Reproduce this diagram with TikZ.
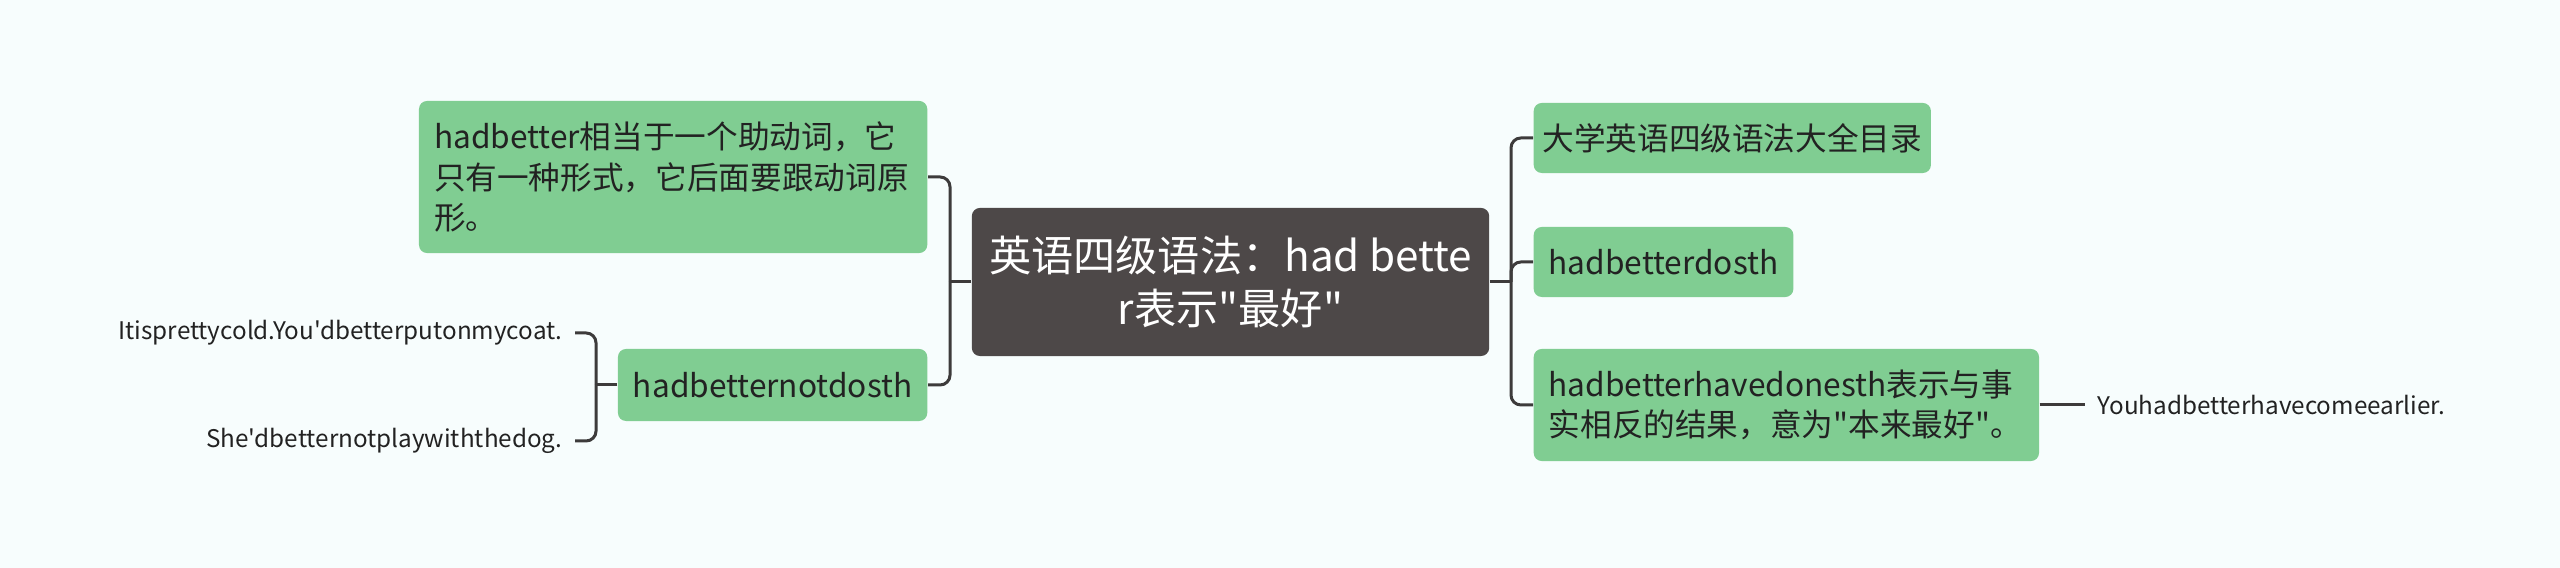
\documentclass[tikz,border=0pt]{standalone}
\usepackage{fontspec}
\setmainfont{Noto Sans CJK SC}[Ligatures=TeXOff]
\usepackage{xcolor}
\usetikzlibrary{positioning}

\definecolor{bgcol}{HTML}{F7FDFD}
\definecolor{topiccol}{HTML}{4D4848}
\definecolor{subcol}{HTML}{80CD92}
\definecolor{linecol}{HTML}{3D3B3B}
\definecolor{textcol}{HTML}{222222}

\begin{document}
\begin{tikzpicture}[%
    x=0.01cm,
    y=-0.01cm,
    link/.style={%
      draw=linecol,
      line width=0.85pt,
      rounded corners=2.8pt
    },
    elbow/.style={to path={|- (\tikztotarget)}},
    topic/.style={%
      rectangle,
      rounded corners=2.3pt,
      fill=topiccol,
      text=white,
      font=\fontsize{12}{14.8}\selectfont,
      align=center,
      inner sep=0pt,
      minimum width=5.17cm,
      minimum height=1.48cm
    },
    sub/.style={%
      rectangle,
      rounded corners=2.3pt,
      fill=subcol,
      text=textcol,
      font=\fontsize{9}{11.4}\selectfont,
      inner xsep=4.27pt,
      inner ysep=0pt,
      minimum height=0.7cm
    },
    leaf/.style={%
      text=textcol,
      font=\fontsize{6.9}{8.5}\selectfont,
      inner xsep=3.4pt,
      inner ysep=0pt
    }
  ]
    \fill[bgcol] (0,0) rectangle (2560,568);
    \useasboundingbox (0,0) rectangle (2560,568);

    \node[topic] (topic) at (1230.5,282) {英语四级语法：had bette\\r表示"最好"};

    % left side
    \node[sub, anchor=east, text width=4.78cm, align=left, minimum height=1.52cm] (lt) at (928,177)
      {hadbetter相当于一个助动词，它\\只有一种形式，它后面要跟动词原\\形。};
    \node[sub, anchor=east, minimum width=3.09cm, minimum height=0.72cm] (lm) at (928,385) {hadbetternotdosth};
    \node[leaf, anchor=east] (ex1) at (575,333) {Itisprettycold.You'dbetterputonmycoat.};
    \node[leaf, anchor=east] (ex2) at (575,441) {She'dbetternotplaywiththedog.};

    % right side
    \node[sub, anchor=west, minimum width=3.97cm, inner xsep=2.4pt] (r1) at (1533,138) {大学英语四级语法大全目录};
    \node[sub, anchor=west, minimum width=2.57cm] (r2) at (1533,262) {hadbetterdosth};
    \node[sub, anchor=west, text width=4.75cm, align=left, minimum height=1.12cm] (r3) at (1533,405)
      {hadbetterhavedonesth表示与事\\实相反的结果，意为"本来最好"。};
    \node[leaf, anchor=west] (ex3) at (2085,405) {Youhadbetterhavecomeearlier.};

    \coordinate (lj) at (950,282);
    \coordinate (rj) at (1511,282);
    \coordinate (bj) at (596,385);

    \path (topic.west) edge [link]        (lj)
          (lj)         edge [link, elbow] (lt.east)
          (lj)         edge [link, elbow] (lm.east)
          (lm.west)    edge [link]        (bj)
          (bj)         edge [link, elbow] (ex1.east)
          (bj)         edge [link, elbow] (ex2.east)
          (topic.east) edge [link]        (rj)
          (rj)         edge [link, elbow] (r1.west)
          (rj)         edge [link, elbow] (r2.west)
          (rj)         edge [link, elbow] (r3.west)
          (r3.east)    edge [link]        (ex3.west)
          ;
  \end{tikzpicture}
\end{document}
